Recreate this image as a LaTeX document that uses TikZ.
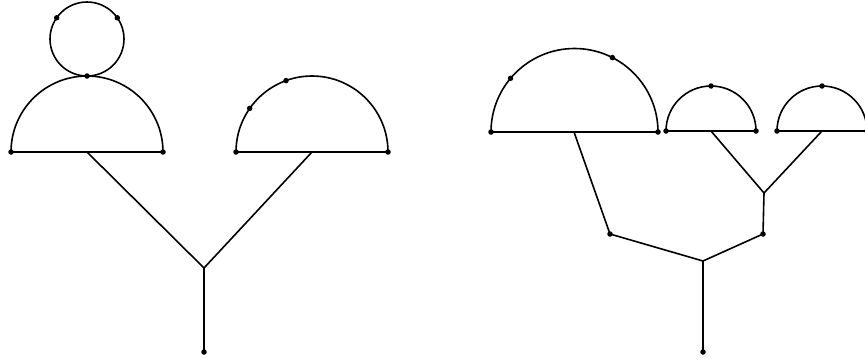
\documentclass[tikz,border=0pt]{standalone}
\begin{document}
\begin{tikzpicture}[x=1pt,y=-1pt,line width=1.6pt,
  dot/.style={circle,fill=black,inner sep=0pt,minimum size=5.5pt}]
\useasboundingbox (0,0) rectangle (865,362);
% ---------- left figure ----------
\draw (87,39) circle[radius=37];
\node[dot] (ca) at (56.7,17.8) {};
\node[dot] (cb) at (117.3,17.8) {};
\node[dot] (ct) at (87,76) {};
\draw (11,152) arc[start angle=180,end angle=360,radius=76];
\node[dot] (la) at (11,152) {};
\node[dot] (lb) at (163,152) {};
\draw (la.center) -- (lb.center);
\draw (236,152) arc[start angle=180,end angle=360,radius=76];
\node[dot] (ra) at (236,152) {};
\node[dot] (rb) at (388,152) {};
\node[dot] (rc) at (286,80.6) {};
\node[dot] (rd) at (249.7,108.4) {};
\draw (ra.center) -- (rb.center);
\coordinate (lm) at (87,152);
\coordinate (rm) at (312,152);
\coordinate (j1) at (204,268);
\node[dot] (b1) at (204,352) {};
\draw (lm) -- (j1) -- (rm);
\draw (j1) -- (b1.center);
% ---------- right figure ----------
\draw (491,132) arc[start angle=180,end angle=360,radius=83.5];
\node[dot] (ba) at (491,132) {};
\node[dot] (bb) at (658,132) {};
\node[dot] (bc) at (510.5,78.3) {};
\node[dot] (bd) at (612.4,57.6) {};
\draw (ba.center) -- (bb.center);
\draw (666,131) arc[start angle=180,end angle=360,radius=45];
\node[dot] (sa) at (666,131) {};
\node[dot] (sb) at (756,131) {};
\node[dot] (sc) at (711,86) {};
\draw (sa.center) -- (sb.center);
\draw (777,131) arc[start angle=180,end angle=360,radius=45];
\node[dot] (ta) at (777,131) {};
\node[dot] (tb) at (867,131) {};
\node[dot] (tc) at (822,86) {};
\draw (ta.center) -- (tb.center);
\coordinate (bm) at (574,132);
\coordinate (sm) at (711,131);
\coordinate (tm) at (822,131);
\node[dot] (p1) at (610,234) {};
\node[dot] (p2) at (763,234) {};
\coordinate (j2) at (764,193);
\coordinate (j3) at (703,261);
\node[dot] (b2) at (703,352) {};
\draw (bm) -- (p1.center) -- (j3) -- (p2.center) -- (j2);
\draw (sm) -- (j2) -- (tm);
\draw (j3) -- (b2.center);
\end{tikzpicture}
\end{document}
